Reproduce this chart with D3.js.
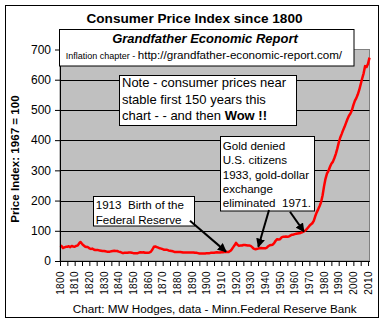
<!DOCTYPE html>
<html><head><meta charset="utf-8">
<script src="https://cdn.jsdelivr.net/npm/d3@7"></script>
<style>
body{margin:0;background:#fff;}
svg{display:block;font-family:Arial,"Liberation Sans",sans-serif;}
svg text{white-space:pre;}
</style></head>
<body><svg id="c" width="384" height="324"></svg>
<script>
const startYear = 1800;
const endYear = 2011;
const cpi = [
 51,50,43,45,47,47,49,46,50,48,
 47,50,51,58,63,57,52,48,46,46,
 42,40,41,38,36,36,36,35,34,33,
 33,32,31,31,31,32,33,34,33,33,
 31,30,28,26,27,27,27,28,28,27,
 26,26,26,26,28,29,28,29,27,27,
 27,28,31,38,47,48,46,44,42,41,
 39,37,37,37,35,34,33,32,30,30,
 30,30,30,29,28,28,28,28,28,28,
 28,28,27,27,26,25,25,25,25,25,
 26,26,26,27,27,27,28,29,28,28,
 29,29,30,30,30,30,33,38,45,52,
 60,54,50,51,51,53,53,52,51,51,
 50,46,41,39,40,41,42,43,42,42,
 42,44,49,52,53,54,59,67,72,71,
 72,78,80,80,81,80,81,84,87,87,
 89,90,91,92,93,95,97,100,104,110,
 116,121,125,133,148,161,171,182,195,217,
 247,272,289,298,311,322,328,340,354,371,
 391,408,420,433,444,457,470,481,488,499,
 516,530,539,551,566,585,604,621,645,642,
 653,673
];
const yTicks = [0,100,200,300,400,500,600,700];
const xLabelYears = d3.range(1800, 2011, 10);
const xTickYears = d3.range(1800, 2012, 5);
const title = "Consumer Price Index since 1800";
const subtitle = "Grandfather Economic Report";
const subPrefix = "Inflation chapter - ";
const subUrl = "http://grandfather-economic-report.com/";
const yTitle = "Price Index: 1967 = 100";
const footer = "Chart: MW Hodges, data - Minn.Federal Reserve Bank";
const noteLines = ["Note - consumer prices near", "stable first 150 years this", "chart - - and then "];
const goldLines = ["Gold denied", "U.S. citizens", "1933, gold-dollar", "exchange", "eliminated  1971."];
const fedLines = ["1913  Birth of the", "Federal Reserve"];
// arrows: [fromYear, fromValue, toYear, toValue]
const arrows = [
  [1888.6, 133, 1913.2, 31],
  [1942.5, 169, 1935.2, 47],
  [1956.8, 163, 1966.3, 97]
];

const data = cpi.map((v,i)=>({year:startYear+i, value:v}));
const svg = d3.select("#c");
const x = d3.scaleLinear().domain([startYear, endYear]).range([60, 369.5]);
const y = d3.scaleLinear().domain([0, 700]).range([261, 49.5]);

// outer frame
svg.append("rect").attr("x",5.5).attr("y",5.5).attr("width",373).attr("height",312)
  .attr("fill","#fff").attr("stroke","#000").attr("stroke-width",1);

// plot area
svg.append("rect").attr("x",x(startYear)).attr("y",y(700))
  .attr("width",x(endYear)-x(startYear)).attr("height",y(0)-y(700))
  .attr("fill","#c0c0c0").attr("stroke","#808080").attr("stroke-width",1);

// gridlines
svg.append("g").selectAll("line").data(yTicks.filter(d=>d>0 && d<700)).join("line")
  .attr("x1",x(startYear)).attr("x2",x(endYear))
  .attr("y1",d=>Math.round(y(d))+0.5).attr("y2",d=>Math.round(y(d))+0.5)
  .attr("stroke","#000").attr("stroke-width",1);

// line
svg.append("path").datum(data)
  .attr("d", d3.line().x(d=>x(d.year)).y(d=>y(d.value)))
  .attr("fill","none").attr("stroke","#ff0000").attr("stroke-width",2.5)
  .attr("stroke-linejoin","round");

// y axis
const ya = svg.append("g").attr("transform",`translate(${x(startYear)},0)`)
  .call(d3.axisLeft(y).tickValues(yTicks).tickSize(5).tickPadding(4).tickSizeOuter(0));
ya.select(".domain").attr("stroke","#000");
ya.selectAll("text").attr("font-size",12).attr("font-family","Arial, 'Liberation Sans', sans-serif").attr("fill","#000");

// x axis
const xa = svg.append("g").attr("transform",`translate(0,${y(0)})`)
  .call(d3.axisBottom(x).tickValues(xTickYears).tickSize(5).tickFormat("").tickSizeOuter(0));
xa.select(".domain").attr("stroke","#000");
svg.append("g").selectAll("text").data(xLabelYears).join("text")
  .attr("transform",d=>`translate(${x(d)+3.5},${y(0)+10}) rotate(-90)`)
  .attr("text-anchor","end").attr("font-size",10).attr("letter-spacing",0.4)
  .text(d=>d);

// title
svg.append("text").attr("x",194.5).attr("y",22.7).attr("text-anchor","middle")
  .attr("font-weight","bold").attr("font-size",13.6).text(title);

// subtitle box
svg.append("rect").attr("x",59.5).attr("y",29.5).attr("width",294.5).attr("height",36.5)
  .attr("fill","#fff").attr("stroke","#000");
svg.append("text").attr("x",205).attr("y",42.7).attr("text-anchor","middle")
  .attr("font-weight","bold").attr("font-style","italic").attr("font-size",13).text(subtitle);
const st = svg.append("text").attr("x",65.7).attr("y",59.3);
st.append("tspan").attr("font-size",9).text(subPrefix);
st.append("tspan").attr("font-size",11.6).text(subUrl);

// y title
svg.append("text").attr("transform","translate(18.5,159) rotate(-90)").attr("text-anchor","middle")
  .attr("font-weight","bold").attr("font-size",11.6).text(yTitle);

// note box
svg.append("rect").attr("x",119.5).attr("y",75.5).attr("width",177).attr("height",50)
  .attr("fill","#fff").attr("stroke","#000");
const nt = svg.append("g");
noteLines.forEach((l,i)=>{
  const t = nt.append("text").attr("x",122).attr("y",87.3+i*16.4).attr("font-size",13).text(l);
  if(i===2) t.append("tspan").attr("font-weight","bold").text("Wow !!");
});

// gold box
svg.append("rect").attr("x",220.5).attr("y",136.5).attr("width",94).attr("height",74.5)
  .attr("fill","#fff").attr("stroke","#000");
goldLines.forEach((l,i)=>{
  svg.append("text").attr("x",222.7).attr("y",150+i*14.3).attr("font-size",11.6).text(l);
});

// fed box
svg.append("rect").attr("x",93.5).attr("y",196.5).attr("width",101).attr("height",29.5)
  .attr("fill","#fff").attr("stroke","#000");
fedLines.forEach((l,i)=>{
  svg.append("text").attr("x",95.7).attr("y",208.5+i*15).attr("font-size",11.6).text(l);
});

// arrows
const defs = svg.append("defs");
defs.append("marker").attr("id","ah").attr("viewBox","0 0 10 10").attr("refX",9).attr("refY",5)
  .attr("markerWidth",4.5).attr("markerHeight",4.5).attr("orient","auto").attr("markerUnits","strokeWidth")
  .append("path").attr("d","M0,0 L10,5 L0,10 z").attr("fill","#000");
svg.append("g").selectAll("line").data(arrows).join("line")
  .attr("x1",d=>x(d[0])).attr("y1",d=>y(d[1]))
  .attr("x2",d=>x(d[2])).attr("y2",d=>y(d[3]))
  .attr("stroke","#000").attr("stroke-width",2).attr("marker-end","url(#ah)");

// footer
svg.append("text").attr("x",214.7).attr("y",313).attr("text-anchor","middle")
  .attr("font-size",11.7).text(footer);
</script></body></html>
